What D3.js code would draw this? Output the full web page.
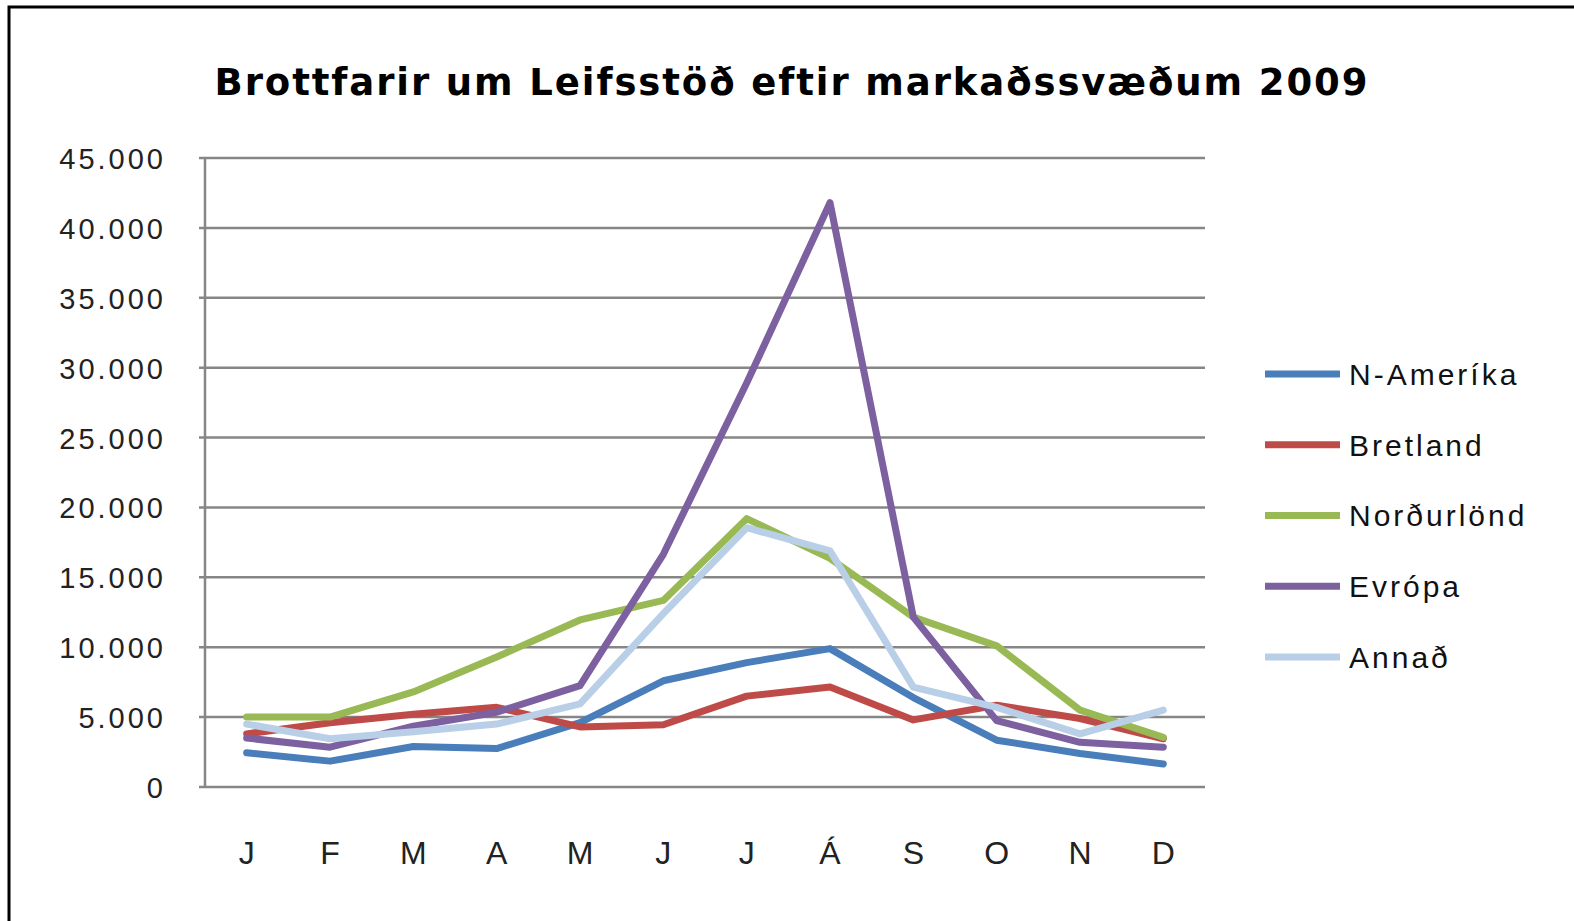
<!DOCTYPE html>
<html>
<head>
<meta charset="utf-8">
<script src="https://cdn.jsdelivr.net/npm/d3@7"></script>
<style>
  body { margin: 0; background: #fff; }
  svg { display: block; }
</style>
</head>
<body>
<div id="chart"></div>
<script>
// chart data
const months = ["J", "F", "M", "A", "M", "J", "J", "Á", "S", "O", "N", "D"];
const seriesNames = ["N-Ameríka", "Bretland", "Norðurlönd", "Evrópa", "Annað"];
const seriesColors = ["#4A7EBB", "#BE4B48", "#98B954", "#7D60A0", "#B9CFE8"];
const nAmerika   = [2450, 1850, 2900, 2750, 4600, 7600, 8900, 9900, 6400, 3350, 2400, 1650];
const bretland   = [3800, 4600, 5200, 5700, 4300, 4450, 6500, 7150, 4800, 5850, 4900, 3450];
const nordurlond = [5000, 5000, 6800, 9300, 11950, 13350, 19200, 16350, 12150, 10100, 5500, 3550];
const evropa     = [3500, 2850, 4350, 5350, 7250, 16650, 28900, 41800, 12150, 4750, 3200, 2850];
const annad      = [4500, 3450, 3950, 4500, 5950, 12400, 18550, 16900, 7150, 5700, 3800, 5500];
const yTicks = [0, 5000, 10000, 15000, 20000, 25000, 30000, 35000, 40000, 45000];

const allSeries = [nAmerika, bretland, nordurlond, evropa, annad];

const width = 1574, height = 921;
const plot = { left: 205, right: 1205, top: 158, bottom: 787 };

const svg = d3.select("#chart")
  .append("svg")
  .attr("width", width)
  .attr("height", height);

// outer frame (only top and left edges visible)
svg.append("rect")
  .attr("x", 9).attr("y", 7)
  .attr("width", width + 20).attr("height", height + 20)
  .attr("fill", "#fff")
  .attr("stroke", "#000")
  .attr("stroke-width", 3);

// title
svg.append("text")
  .attr("x", 792)
  .attr("y", 95)
  .attr("text-anchor", "middle")
  .style("font-family", "'DejaVu Sans', sans-serif")
  .style("font-weight", "bold")
  .style("font-size", "37px")
  .style("letter-spacing", "1.9px")
  .style("fill", "#000")
  .text("Brottfarir um Leifsstöð eftir markaðssvæðum 2009");

// scales
const x = d3.scaleBand()
  .domain(d3.range(months.length))
  .range([plot.left, plot.right]);

const y = d3.scaleLinear()
  .domain([0, 45000])
  .range([plot.bottom, plot.top]);

// gridlines
svg.append("g")
  .selectAll("line")
  .data(yTicks)
  .join("line")
  .attr("x1", plot.left - 6)
  .attr("x2", plot.right)
  .attr("y1", d => y(d))
  .attr("y2", d => y(d))
  .attr("stroke", "#868686")
  .attr("stroke-width", 2.5);

// vertical axis line
svg.append("line")
  .attr("x1", plot.left).attr("x2", plot.left)
  .attr("y1", plot.top).attr("y2", plot.bottom)
  .attr("stroke", "#868686")
  .attr("stroke-width", 2.5);

// y tick labels
const fmt = d3.formatLocale({ decimal: ",", thousands: ".", grouping: [3], currency: ["", ""] }).format(",");
svg.append("g")
  .selectAll("text")
  .data(yTicks)
  .join("text")
  .attr("x", 166)
  .attr("y", d => y(d))
  .attr("dy", "0.38em")
  .attr("text-anchor", "end")
  .style("font-family", "'Liberation Sans', Arial, sans-serif")
  .style("font-size", "29px")
  .style("letter-spacing", "3px")
  .style("fill", "#222")
  .text(d => fmt(d));

// x axis labels
const xAxis = d3.axisBottom(x)
  .tickFormat(i => months[i])
  .tickSize(0)
  .tickPadding(0);

const xg = svg.append("g")
  .attr("transform", `translate(0, ${plot.bottom + 66})`)
  .call(xAxis);
xg.select(".domain").remove();
xg.selectAll("text")
  .attr("dy", "0.35em")
  .attr("y", 0)
  .style("font-family", "'Liberation Sans', Arial, sans-serif")
  .style("font-size", "32px")
  .style("fill", "#222");

// lines
const line = d3.line()
  .x((d, i) => x(i) + x.bandwidth() / 2)
  .y(d => y(d));

svg.append("g")
  .attr("fill", "none")
  .attr("stroke-width", 7)
  .attr("stroke-linejoin", "round")
  .attr("stroke-linecap", "round")
  .selectAll("path")
  .data(allSeries)
  .join("path")
  .attr("stroke", (d, i) => seriesColors[i])
  .attr("d", line);

// legend
const legend = svg.append("g")
  .selectAll("g")
  .data(seriesNames)
  .join("g")
  .attr("transform", (d, i) => `translate(1265, ${374 + i * 70.75})`);

legend.append("line")
  .attr("x1", 0).attr("x2", 75)
  .attr("stroke", (d, i) => seriesColors[i])
  .attr("stroke-width", 7);

legend.append("text")
  .attr("x", 84)
  .attr("dy", "0.36em")
  .style("font-family", "'Liberation Sans', Arial, sans-serif")
  .style("font-size", "30px")
  .style("letter-spacing", "3px")
  .style("fill", "#111")
  .text(d => d);
</script>
</body>
</html>
